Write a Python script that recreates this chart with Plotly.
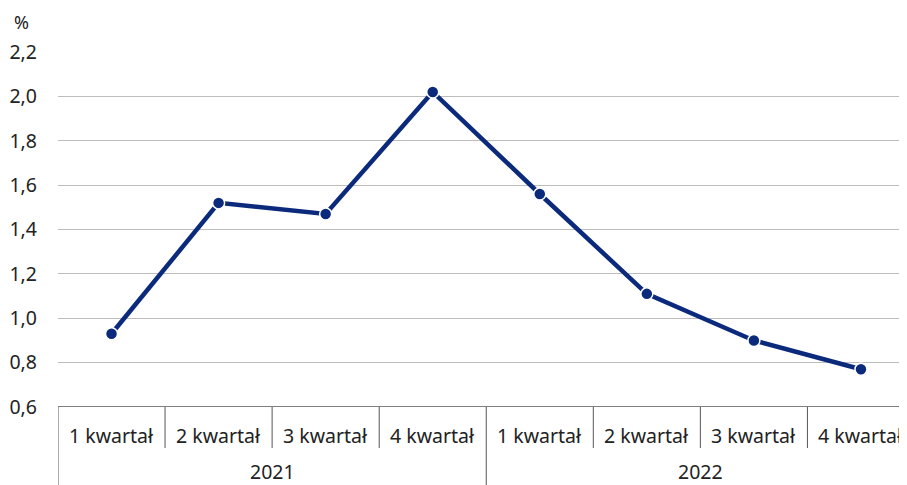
import plotly.graph_objects as go

quarters = ["1 kwartał", "2 kwartał", "3 kwartał", "4 kwartał",
            "1 kwartał", "2 kwartał", "3 kwartał", "4 kwartał"]
years = ["2021", "2022"]
values = [0.93, 1.52, 1.47, 2.02, 1.56, 1.11, 0.90, 0.77]
y_ticks = [0.6, 0.8, 1.0, 1.2, 1.4, 1.6, 1.8, 2.0, 2.2]

FONT = "Noto Sans"
FS = 19.5
TXT = "#222222"
NAVY = "#0b2a7c"

idx = list(range(len(values)))

fig = go.Figure()
fig.add_trace(go.Scatter(
    x=idx, y=values, mode="lines+markers",
    line=dict(color=NAVY, width=4.5),
    marker=dict(color=NAVY, size=12, line=dict(color="white", width=1.5)),
    cliponaxis=False, showlegend=False,
))

shapes = []
annotations = []
for i in range(1, len(quarters)):
    boundary_year = (i % 4 == 0)
    shapes.append(dict(type="line", xref="x", yref="paper", ysizemode="pixel",
                       yanchor=0, x0=i - 0.5, x1=i - 0.5, y0=0,
                       y1=-80 if boundary_year else -41,
                       line=dict(color="#555555", width=1)))
shapes.append(dict(type="line", xref="x", yref="paper", ysizemode="pixel",
                   yanchor=0, x0=-0.5, x1=-0.5, y0=0, y1=-80,
                   line=dict(color="#555555", width=1)))
shapes.append(dict(type="line", xref="paper", yref="y", x0=0, x1=1,
                   y0=0.6, y1=0.6, line=dict(color="#555555", width=1.5)))

for i, q in enumerate(quarters):
    annotations.append(dict(x=i, y=0, xref="x", yref="paper", text=q,
                            showarrow=False, yanchor="middle", yshift=-28,
                            font=dict(family=FONT, size=FS, color=TXT)))
for j, yr in enumerate(years):
    annotations.append(dict(x=j * 4 + 1.5, y=0, xref="x", yref="paper", text=yr,
                            showarrow=False, yanchor="middle", yshift=-64,
                            borderpad=0,
                            font=dict(family=FONT, size=FS, color=TXT)))
annotations.append(dict(x=0, y=1, xref="paper", yref="paper", text="%",
                        showarrow=False, xanchor="right", yanchor="middle",
                        xshift=-27, yshift=30,
                        font=dict(family=FONT, size=FS - 1.5, color=TXT)))

fig.update_layout(
    width=899, height=477,
    margin=dict(l=50, r=0, t=44, b=78),
    paper_bgcolor="white", plot_bgcolor="white",
    separators=", ",
    font=dict(family=FONT, size=FS, color=TXT),
    xaxis=dict(range=[-0.5, 7.43], showgrid=False, showticklabels=False,
               zeroline=False, showline=False, fixedrange=True),
    yaxis=dict(range=[0.6, 2.2], tickvals=y_ticks, tickformat=".1f",
               showgrid=True, gridcolor="#bdbdbd", gridwidth=1,
               zeroline=False, showline=False, ticks="",
               ticklabelstandoff=20, tickfont=dict(family=FONT, size=FS, color=TXT)),
    shapes=shapes,
    annotations=annotations,
)

fig.write_html("out.html")
